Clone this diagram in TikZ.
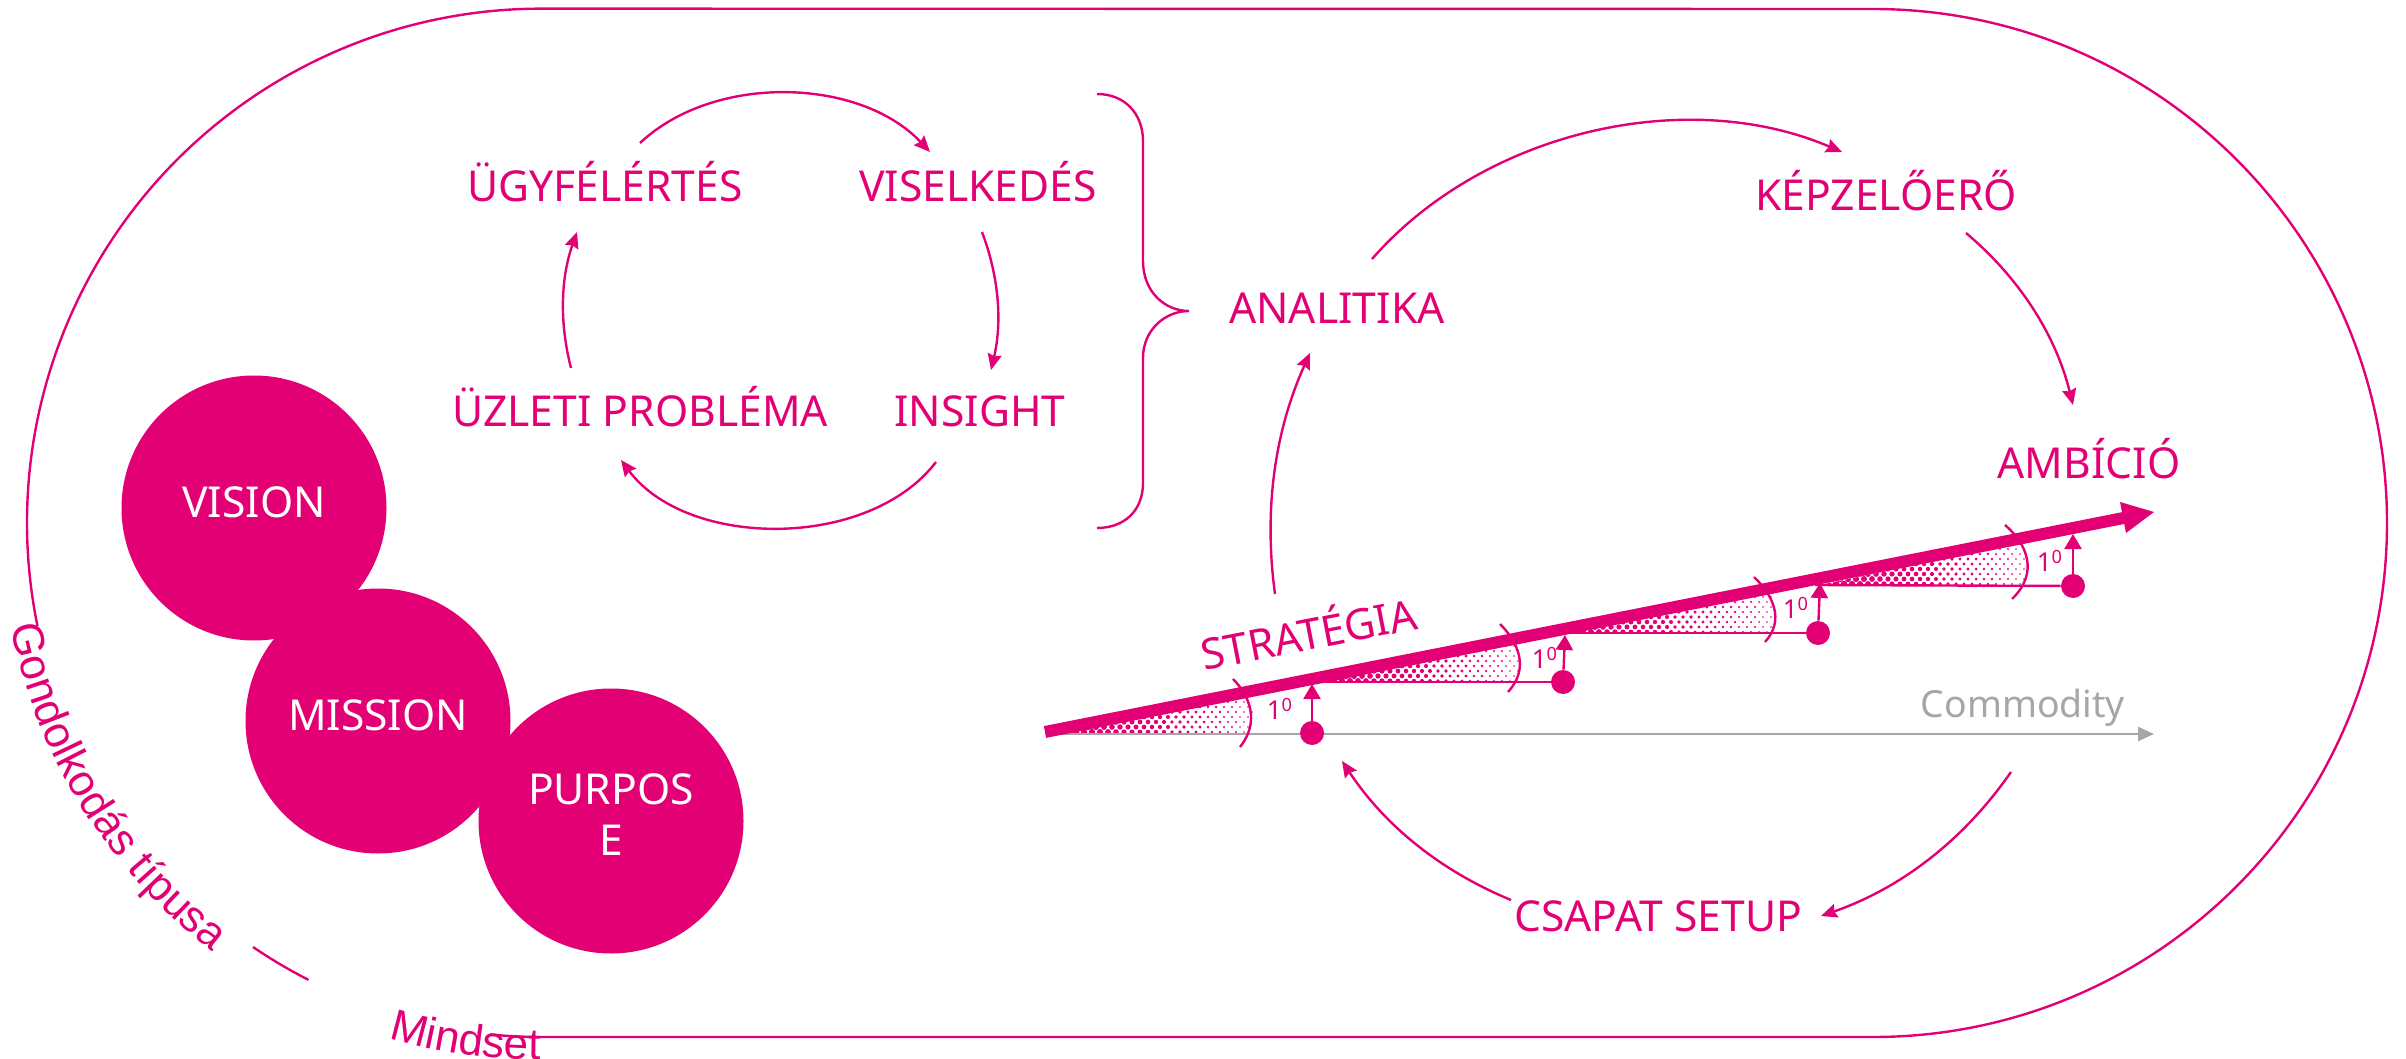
\documentclass[tikz,border=0pt]{standalone}
\usepackage{fontspec}
\setmainfont{Noto Sans}
\newfontfamily\arialf{Liberation Sans}
\usetikzlibrary{arrows.meta,decorations.text,shapes.geometric}
\definecolor{mag}{HTML}{E20074}
\definecolor{gry}{HTML}{A6A6A6}
\tikzset{
  lbl/.style={inner sep=0pt,text=mag,font=\fontsize{21.3pt}{25.5pt}\selectfont,text height=15pt,text depth=0pt},
  thin line/.style={draw=mag,line width=1.2pt},
  conn/.style={thin line,looseness=0.9,-{Stealth[length=8pt,width=7pt,inset=1pt]}},
  disc/.style={circle,fill=mag,text=white,inner sep=0pt,minimum size=132.5pt,align=center,font=\fontsize{21.3pt}{25.5pt}\selectfont,text height=15pt,text depth=6pt},
  dot/.style={circle,fill=mag,inner sep=0pt,minimum size=12pt},
  up/.style={draw=mag,line width=1.2pt,-{Triangle[length=7.5pt,width=8.5pt]}},
  deg/.style={inner sep=0pt,text=mag,font=\fontsize{13pt}{15pt}\selectfont},
}
\newcommand{\halft}[5]{% x0, x1, ybottom, apex, clip tail
  \begin{scope}
    \clip (#1,#3) -- #4 #5 -- cycle;
    \foreach \i in {0,...,36}{
      \foreach \j in {0,...,10}{
        \pgfmathsetmacro{\xx}{#1+\i*8+mod(\j,2)*4}
        \pgfmathsetmacro{\yy}{#3-1-\j*5}
        \pgfmathsetmacro{\rr}{max(0.8,3.6-2.8*(\xx-#1)/(#2-#1))}
        \fill[mag] (\xx,\yy) circle[radius=\rr];
      }
    }
  \end{scope}
}
\begin{document}
\begin{tikzpicture}[x=0.5pt,y=-0.5pt]
\useasboundingbox (0,0) rectangle (2406,1059);
% outer stadium
\draw[thin line] (37.5,626) arc[start angle=168.4,end angle=270,radius=514] -- (1873,9)
  arc[start angle=270,end angle=450,radius=514] -- (541,1037)
  arc[start angle=90,end angle=95.7,radius=514];
\draw[thin line] (253,947) arc[start angle=124.2,end angle=117,radius=514];
\path[decorate,decoration={text along path,text align=left,
  text={|\arialf\fontsize{22pt}{25pt}\selectfont\color{mag}|Gondolkodás típusa}}]
  (541,523) ++(169:540) arc[start angle=169,end angle=125,radius=540];
\path[decorate,decoration={text along path,text align=left,
  text={|\arialf\fontsize{22pt}{25pt}\selectfont\color{mag}|Mindset}}]
  (541,523) ++(106.5:537) arc[start angle=106.5,end angle=86,radius=537];
% discs
\node[disc] (vision) at (254,508) {VISION};
\node[disc] (mission) at (378,721) {MISSION};
\node[disc,text height={},text depth={}] (purpose) at (611,821) {PURPOS\\E\rule[-6pt]{0pt}{0pt}};
% labels
\node[lbl] (ugy) at (605,187) {ÜGYFÉLÉRTÉS};
\node[lbl] (vis) at (978,187) {VISELKEDÉS};
\node[lbl] (ins) at (980,412) {INSIGHT};
\node[lbl] (uzl) at (640,412) {ÜZLETI PROBLÉMA};
\node[lbl] (ana) at (1337,309) {ANALITIKA};
\node[lbl] (kep) at (1886,196) {KÉPZELŐERŐ};
\node[lbl] (amb) at (2089,464) {AMBÍCIÓ};
\node[lbl] (csa) at (1658,916) {CSAPAT SETUP};
\node[lbl,rotate=11] (stg) at (1309,635) {STRATÉGIA};
\node[lbl,text=gry,font=\fontsize{18.7pt}{22pt}\selectfont,text height=13pt] (comm) at (2023,704) {Commodity};
% brace
\draw[thin line] (1097,94) .. controls (1125,94) and (1143,114) .. (1143,141) -- (1143,261)
  .. controls (1143,292) and (1165,311) .. (1189,311)
  .. controls (1165,311) and (1143,330) .. (1143,358) -- (1143,483)
  .. controls (1143,510) and (1125,528) .. (1097,528);
% halftone wedges
\halft{1060}{1252}{733}{(1250,690)}{-- (1253,713) -- (1250,733)}
\halft{1310}{1520}{682}{(1516,638)}{-- (1521,662) -- (1518,682)}
\halft{1535}{1775}{633}{(1771,590)}{-- (1776,613) -- (1773,633)}
\halft{1820}{2028}{585}{(2024,542)}{-- (2029,563) -- (2026,585)}
% commodity base line
\coordinate (gs) at (1045,734);
\coordinate (ge) at (2154,734);
\draw[draw=gry,line width=1.3pt,-{Stealth[length=8pt,width=7pt,inset=0pt]}] (gs) -- (ge);
% dots
\node[dot] (d1) at (1312,733) {};
\node[dot] (d2) at (1563,682) {};
\node[dot] (d3) at (1818,633) {};
\node[dot] (d4) at (2073,586) {};
% horizontals
\coordinate (h2) at (1300,682);
\coordinate (h3) at (1530,633);
\coordinate (h4) at (1815,585);
\draw[thin line] (h2) -- (d2);
\draw[thin line] (h3) -- (d3);
\draw[thin line] (h4) -- (d4);
% angle arcs
\draw[thin line] (1233,679) .. controls (1250,696) and (1260,722) .. (1240,747);
\draw[thin line] (1500,624) .. controls (1518,642) and (1530,668) .. (1508,692);
\draw[thin line] (1754,577) .. controls (1773,595) and (1785,620) .. (1765,642);
\draw[thin line] (2005,525) .. controls (2026,543) and (2040,572) .. (2012,599);
% strategy line
\coordinate (ms) at (1045,732);
\coordinate (me) at (2126,517.5);
\draw[mag,line width=6pt] (ms) -- (me);
\coordinate (tip) at (2154,512);
\coordinate (w1) at (2120,502);
\coordinate (w2) at (2126,533);
\fill[mag] (tip) -- (w1) -- (w2) -- cycle;
% up arrows
\coordinate (t1) at (1312,684);
\coordinate (t2) at (1565,635);
\coordinate (t3) at (1820,583);
\coordinate (t4) at (2073,534);
\draw[up] (d1) -- (t1);
\draw[up] (d2) -- (t2);
\draw[up] (d3) -- (t3);
\draw[up] (d4) -- (t4);
% degrees
\node[deg] (a1) at (1280,709) {1\textsuperscript{0}};
\node[deg] (a2) at (1545,658) {1\textsuperscript{0}};
\node[deg] (a3) at (1796,608) {1\textsuperscript{0}};
\node[deg] (a4) at (2050,561) {1\textsuperscript{0}};
% connectors
\draw[conn] ([shift={(35,-44)}]ugy.center) to[bend left=45] ([shift={(-48,-35)}]vis.center);
\draw[conn] ([shift={(4,45)}]vis.center) to[bend left=17] ([shift={(11,-42)}]ins.center);
\draw[conn] ([shift={(-44,50)}]ins.center) to[bend left=53] ([shift={(-19,48)}]uzl.center);
\draw[conn] ([shift={(-69,-44)}]uzl.center) to[bend left=17] ([shift={(-28,45)}]ugy.center);
\draw[conn] ([shift={(35,-50)}]ana.center) to[bend left=36] ([shift={(-44,-44)}]kep.center);
\draw[conn] ([shift={(80,37)}]kep.center) to[bend left=18] ([shift={(-16,-59)}]amb.center);
\draw[conn] ([shift={(-12,68)}]comm.center) to[bend left=18] ([shift={(163,0)}]csa.center);
\draw[conn] ([shift={(-147,-16)}]csa.center) to[bend left=17] ([shift={(30,28)}]d1.center);
\draw[conn] ([shift={(-34,-41)}]stg.center) to[bend left=16] ([shift={(-27,44)}]ana.center);
\end{tikzpicture}
\end{document}
